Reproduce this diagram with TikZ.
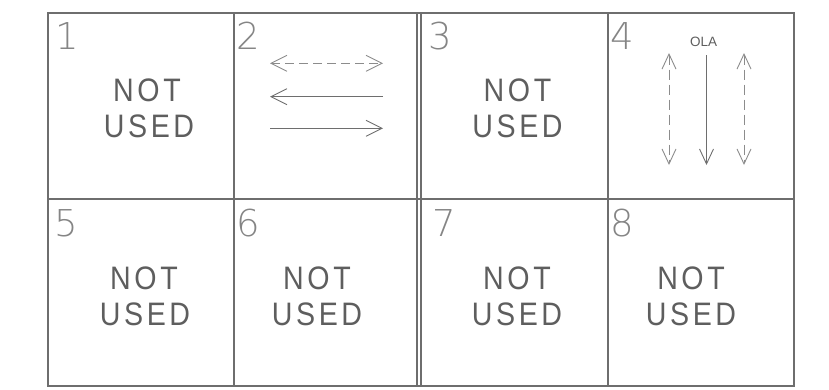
\documentclass[tikz,border=0pt]{standalone}
\usepackage{fontspec}
\setmainfont{Liberation Sans}
\newfontfamily\nufont[FakeStretch=0.88,LetterSpace=11]{Liberation Sans}
\IfFontExistsTF{DejaVu Sans ExtraLight}{\newfontfamily\digitfont{DejaVu Sans ExtraLight}}{\newfontfamily\digitfont{DejaVu Sans}}
\usetikzlibrary{arrows.meta}
\definecolor{linegray}{HTML}{6E6E6E}
\definecolor{textgray}{HTML}{5E5E5E}
\definecolor{digitgray}{HTML}{858585}
\definecolor{dashgray}{HTML}{8C8C8C}
\begin{document}
\begin{tikzpicture}[x=1pt,y=-1pt,
  grid/.style={draw=linegray,line width=1.1pt},
  nu/.style={anchor=base,inner sep=0pt,text=textgray,font=\nufont\fontsize{32.5}{38}\selectfont},
  num/.style={anchor=base west,inner sep=0pt,text=digitgray,font=\digitfont\fontsize{37}{40}\selectfont},
  arr/.style={draw=linegray,line width=0.9pt,-{Straight Barb[length=16pt,width=16pt]}},
  darr/.style={draw=dashgray,line width=0.9pt,dash pattern=on 9pt off 5pt,{Straight Barb[length=16pt,width=16pt]}-{Straight Barb[length=16pt,width=16pt]}},
  varr/.style={draw=linegray,line width=0.9pt,-{Straight Barb[length=15pt,width=14pt]}},
  vdarr/.style={draw=dashgray,line width=0.9pt,dash pattern=on 10pt off 5pt,{Straight Barb[length=15pt,width=14pt]}-{Straight Barb[length=15pt,width=14pt]}}
]
\useasboundingbox (0,0) rectangle (829,389);
% grid corners
\coordinate (tl) at (48,13);
\coordinate (br) at (794,386);
\coordinate (ml) at (48,199);
\coordinate (mr) at (794,199);
\coordinate (c1t) at (234,13); \coordinate (c1b) at (234,386);
\coordinate (c2t) at (417,13); \coordinate (c2b) at (417,386);
\coordinate (c3t) at (421,13); \coordinate (c3b) at (421,386);
\coordinate (c4t) at (608,13); \coordinate (c4b) at (608,386);
\draw[grid] (tl) rectangle (br);
\draw[grid] (ml) -- (mr);
\draw[grid] (c1t) -- (c1b);
\draw[grid] (c2t) -- (c2b);
\draw[grid] (c3t) -- (c3b);
\draw[grid] (c4t) -- (c4b);
% cell numbers
\node[num] (n1) at (55,49) {1};
\node[num] (n2) at (236,49) {2};
\node[num] (n3) at (428,49) {3};
\node[num] (n4) at (610,49) {4};
\node[num] (n5) at (54,236) {5};
\node[num] (n6) at (236,236) {6};
\node[num] (n7) at (432,236) {7};
\node[num] (n8) at (610,236) {8};
% NOT USED texts
\node[nu] (t1a) at (147,101) {NOT};
\node[nu] (t1b) at (149,137) {USED};
\node[nu] (t3a) at (517.5,101) {NOT};
\node[nu] (t3b) at (517.5,137) {USED};
\node[nu] (t5a) at (144,289) {NOT};
\node[nu] (t5b) at (145,325) {USED};
\node[nu] (t6a) at (317,289) {NOT};
\node[nu] (t6b) at (317,325) {USED};
\node[nu] (t7a) at (517,289) {NOT};
\node[nu] (t7b) at (517,325) {USED};
\node[nu] (t8a) at (691,289) {NOT};
\node[nu] (t8b) at (691,325) {USED};
% cell 2 arrows
\coordinate (a1l) at (270,63.3);  \coordinate (a1r) at (383,63.3);
\coordinate (a2l) at (270,96.7);  \coordinate (a2r) at (383,96.7);
\coordinate (a3l) at (270,128.3); \coordinate (a3r) at (383,128.3);
\draw[darr] (a1l) -- (a1r);
\draw[arr] (a2r) -- (a2l);
\draw[arr] (a3l) -- (a3r);
% cell 4
\node[anchor=base,inner sep=0pt,text=textgray,font=\fontsize{13.5}{15}\selectfont] (ola) at (703.5,46.7) {OLA};
\coordinate (v1t) at (669,53);    \coordinate (v1b) at (669,165);
\coordinate (v2t) at (706.5,55);  \coordinate (v2b) at (706.5,165);
\coordinate (v3t) at (744,53);    \coordinate (v3b) at (744,165);
\draw[vdarr] (v1t) -- (v1b);
\draw[varr] (v2t) -- (v2b);
\draw[vdarr] (v3t) -- (v3b);
\end{tikzpicture}
\end{document}
